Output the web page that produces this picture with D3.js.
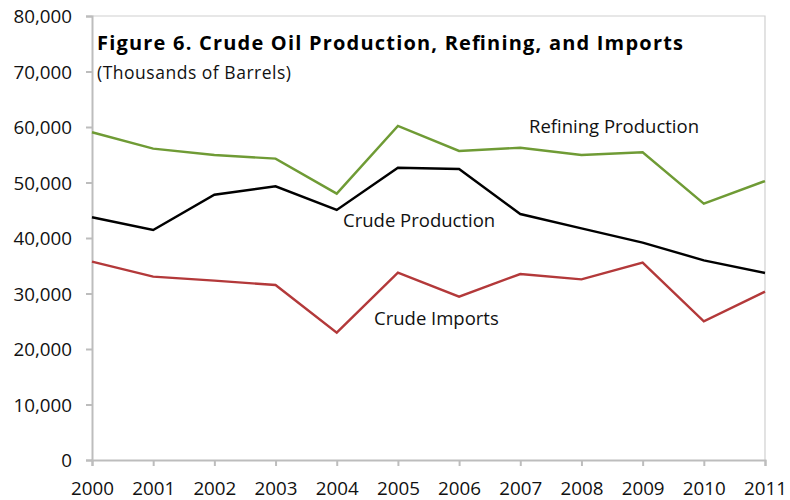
<!DOCTYPE html>
<html>
<head>
<meta charset="utf-8">
<script src="https://cdn.jsdelivr.net/npm/d3@7"></script>
<style>
  body { margin: 0; background: #fff; }
  svg text { font-family: "Open Sans", "Noto Sans", sans-serif; fill: #111; }
</style>
</head>
<body>
<div id="chart"></div>
<script>
const years = [2000, 2001, 2002, 2003, 2004, 2005, 2006, 2007, 2008, 2009, 2010, 2011];
const refining = [59050, 56100, 54950, 54300, 47990, 60180, 55680, 56270, 54950, 55440, 46180, 50270];
const crudeProduction = [43730, 41440, 47800, 49310, 45050, 52670, 52430, 44320, 41740, 39160, 35980, 33700];
const crudeImports = [35740, 33040, 32320, 31530, 22940, 33760, 29430, 33510, 32550, 35560, 25000, 30330];
const yTicks = [0, 10000, 20000, 30000, 40000, 50000, 60000, 70000, 80000];

const svgWidth = 790;
const svgHeight = 500;
const plot = { left: 92, right: 765, top: 16, bottom: 460 };

const main = () => {
  const svg = d3.select("#chart")
    .append("svg")
    .attr("width", svgWidth)
    .attr("height", svgHeight);

  const xScale = d3.scaleLinear()
    .domain([years[0], years[years.length - 1]])
    .range([plot.left, plot.right]);

  const yScale = d3.scaleLinear()
    .domain([0, 80000])
    .range([plot.bottom, plot.top]);

  // light border on top and right
  svg.append("path")
    .attr("d", `M${plot.left},${plot.top}H${plot.right}V${plot.bottom}`)
    .attr("fill", "none")
    .attr("stroke", "#d0d0d0")
    .attr("stroke-width", 1.2);

  const yAxis = svg.append("g")
    .attr("transform", `translate(${plot.left},0)`)
    .call(d3.axisLeft(yScale).tickValues(yTicks).tickSize(6).tickPadding(14).tickFormat(d3.format(",")));

  const xAxis = svg.append("g")
    .attr("transform", `translate(0,${plot.bottom})`)
    .call(d3.axisBottom(xScale).tickValues(years).tickSize(6).tickPadding(16).tickFormat(d3.format("d")));

  [yAxis, xAxis].forEach(ax => {
    ax.select(".domain").attr("stroke", "#bdbdbd").attr("stroke-width", 2);
    ax.selectAll(".tick line").attr("stroke", "#bdbdbd").attr("stroke-width", 2);
    ax.selectAll(".tick text").attr("font-size", 18.8).attr("font-family", null).style("fill", "#111");
  });
  yAxis.selectAll(".tick text").attr("dy", "0.35em");

  const line = d3.line()
    .x((d, i) => xScale(years[i]))
    .y(d => yScale(d));

  const series = [
    { values: refining, color: "#6f9b35" },
    { values: crudeProduction, color: "#000000" },
    { values: crudeImports, color: "#b3393a" }
  ];

  svg.selectAll("path.series")
    .data(series)
    .enter()
    .append("path")
    .attr("class", "series")
    .attr("d", s => line(s.values))
    .attr("fill", "none")
    .attr("stroke", s => s.color)
    .attr("stroke-width", 2.4)
    .attr("stroke-linejoin", "miter");

  svg.append("text")
    .attr("x", 97)
    .attr("y", 50)
    .attr("font-size", 20)
    .attr("font-weight", "bold")
    .attr("textLength", 586)
    .attr("lengthAdjust", "spacing")
    .style("fill", "#000")
    .text("Figure 6. Crude Oil Production, Refining, and Imports");

  svg.append("text")
    .attr("x", 97)
    .attr("y", 79)
    .attr("font-size", 17.5)
    .attr("textLength", 194)
    .attr("lengthAdjust", "spacing")
    .text("(Thousands of Barrels)");

  const labels = [
    { text: "Refining Production", x: 529, y: 133 },
    { text: "Crude Production", x: 343, y: 227 },
    { text: "Crude Imports", x: 374, y: 325 }
  ];

  svg.selectAll("text.label")
    .data(labels)
    .enter()
    .append("text")
    .attr("class", "label")
    .attr("x", d => d.x)
    .attr("y", d => d.y)
    .attr("font-size", 18.5)
    .text(d => d.text);
};

window.onload = main;
</script>
</body>
</html>
